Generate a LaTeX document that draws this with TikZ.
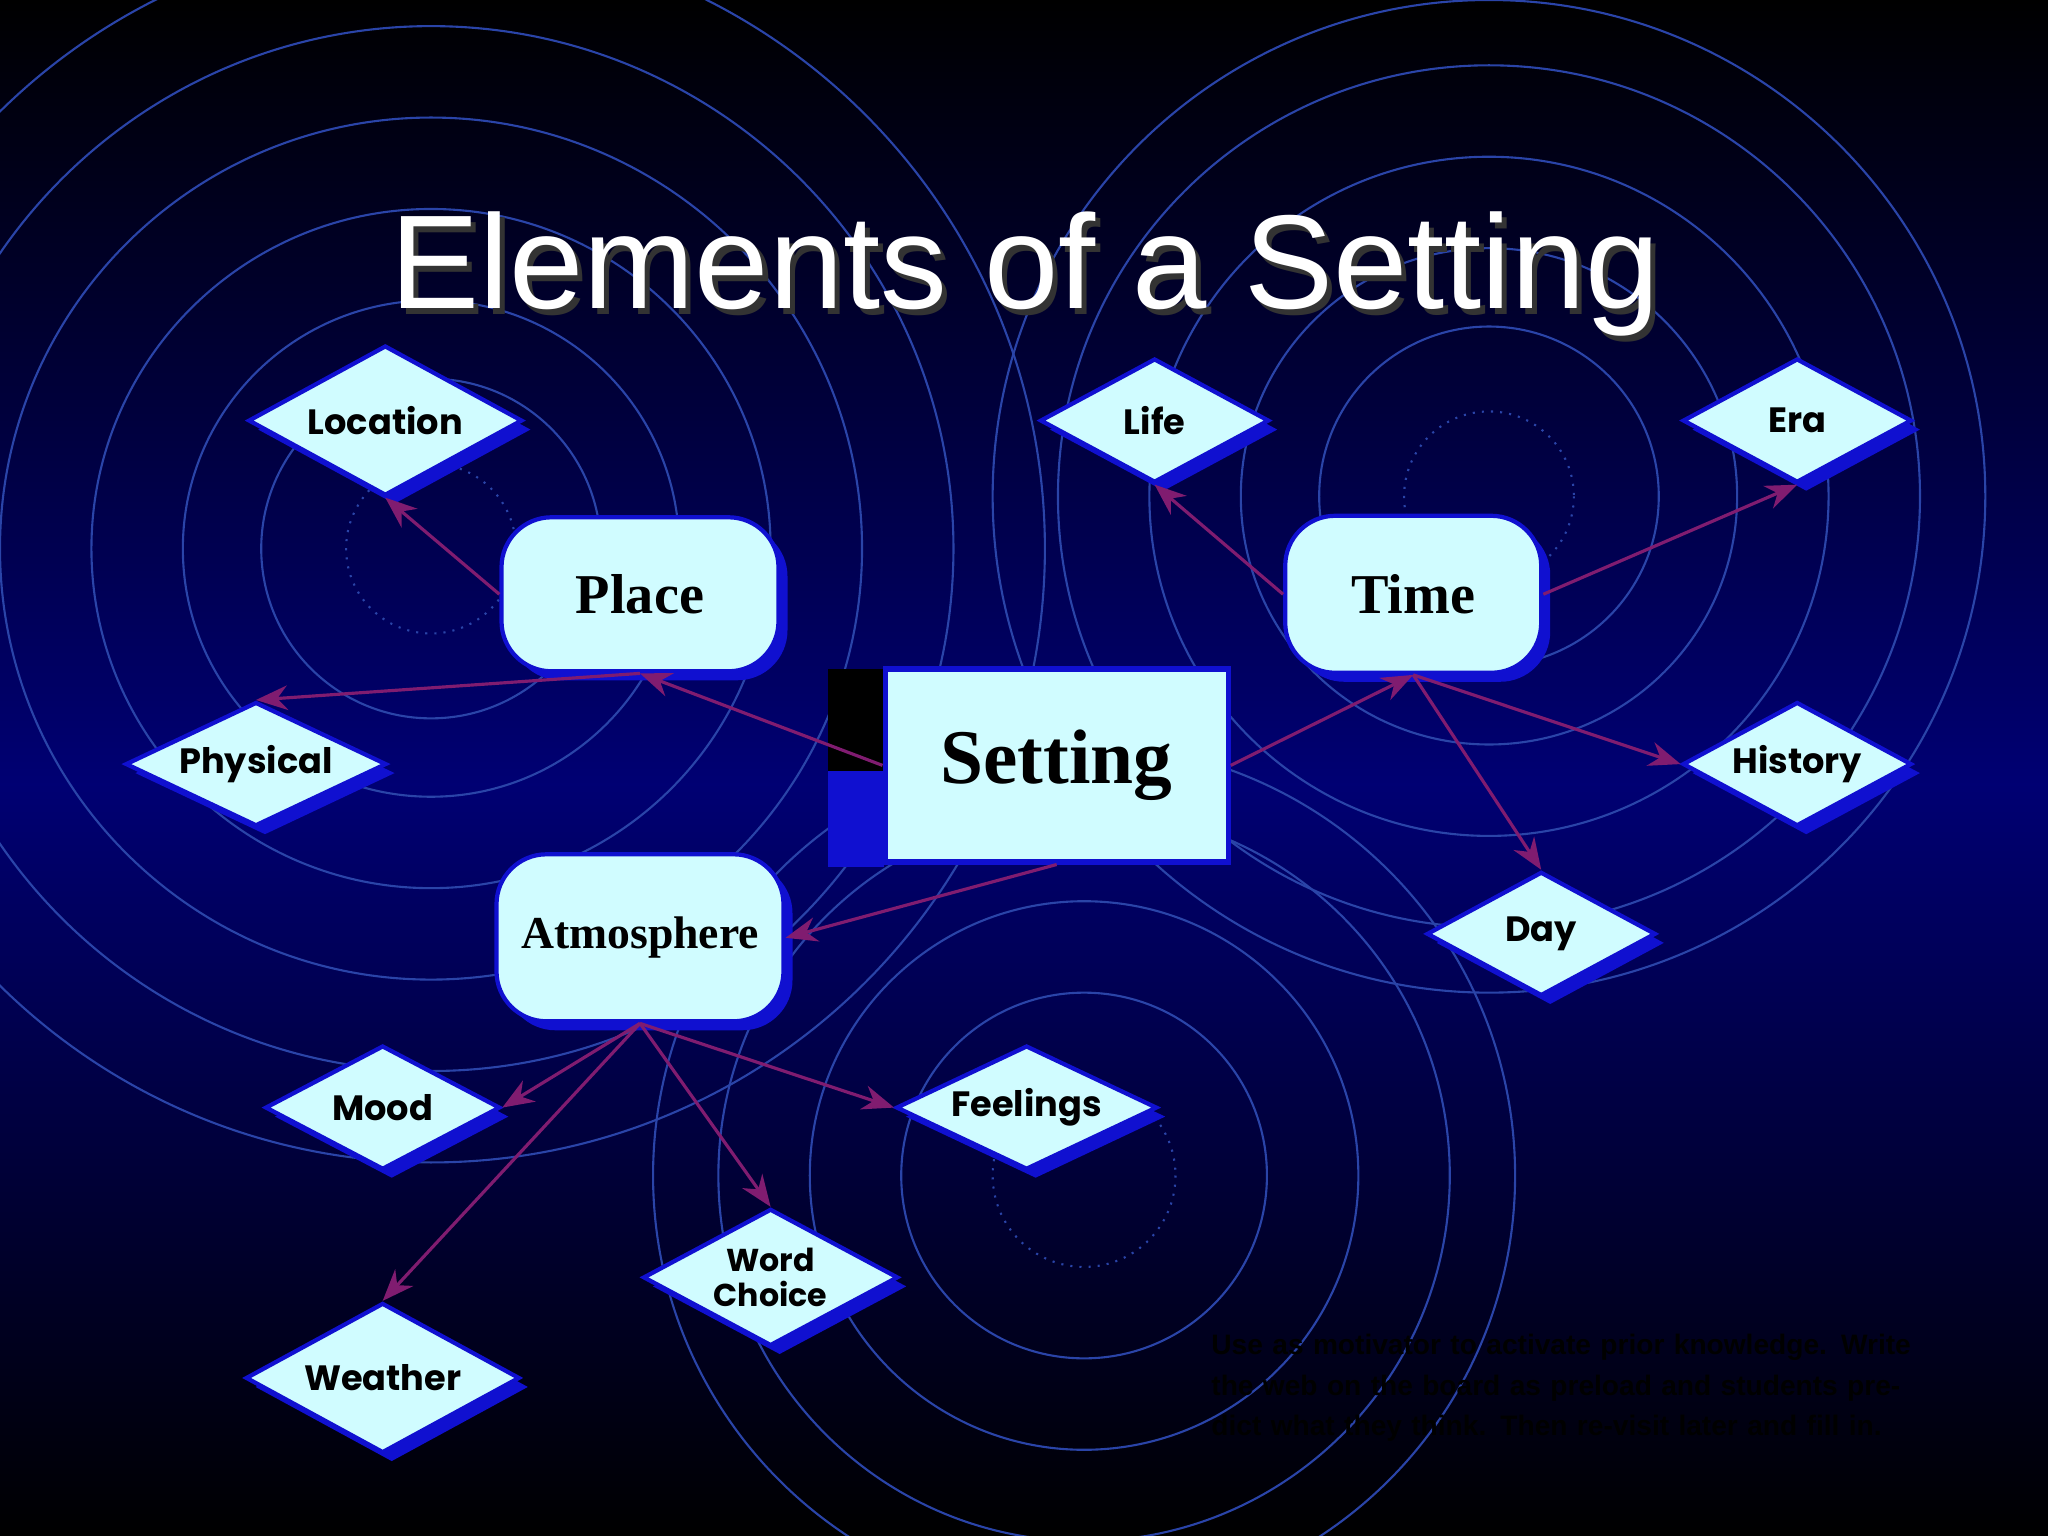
\documentclass[tikz,border=0pt]{standalone}
\usepackage{fontspec}
\newfontfamily\dfont{Poppins Bold}
\newfontfamily\tfont{Liberation Sans}
\newfontfamily\nfont{Liberation Serif}
\usetikzlibrary{shapes.geometric,shadows,arrows.meta}
\definecolor{rc}{HTML}{2A44A8}
\definecolor{fillc}{HTML}{D0FCFF}
\definecolor{brd}{HTML}{1010D0}
\definecolor{arr}{HTML}{801C70}
\tikzset{
 ring/.style={draw=rc,line width=0.6pt},
 sh/.style={drop shadow={fill=brd,shadow xshift=0.09cm,shadow yshift=-0.09cm,opacity=1}},
 dia/.style={shape=diamond,aspect=1.85,sh,draw=brd,line width=1.2pt,fill=fillc,inner sep=0pt,font=\dfont\fontsize{10}{11}\selectfont,align=center},
 rbox/.style={rectangle,rounded corners=0.5cm,sh,draw=brd,line width=1.2pt,fill=fillc,font=\nfont\bfseries\fontsize{16}{18}\selectfont},
 con/.style={draw=arr,line width=0.9pt,-{Stealth[length=9pt,width=7pt]}}
}
\begin{document}
\begin{tikzpicture}[x=0.013061cm,y=-0.013061cm]
\useasboundingbox (0,0) rectangle (1568,1176);
\shade[top color=black,bottom color=blue!45!black] (0,0) rectangle (1568,600);
\shade[top color=blue!45!black,bottom color=black] (0,600) rectangle (1568,1176);
\begin{scope}
\clip (0,0) rectangle (1568,1176);
\foreach \r in {130,190,260,330,400,470} \draw[ring] (330,420) circle (\r);
\draw[ring,dotted] (330,420) circle (65);
\foreach \r in {130,190,260,330,380} \draw[ring] (1140,380) circle (\r);
\draw[ring,dotted] (1140,380) circle (65);
\foreach \r in {140,210,280,330} \draw[ring] (830,900) circle (\r);
\draw[ring,dotted] (830,900) circle (70);
\end{scope}
\node[text=black!80,font=\tfont\fontsize{38}{40}\selectfont] (titlesh) at (789,214) {Elements of a Setting};
\node[text=white,font=\tfont\fontsize{38}{40}\selectfont] (title) at (785,210) {Elements of a Setting};
% Setting
\fill[black] (634,512) rectangle (677,590);
\fill[brd] (634,590) rectangle (677,664);
\node[draw=brd,line width=1.5pt,fill=fillc,minimum width=3.43cm,minimum height=1.93cm,font=\nfont\bfseries\fontsize{22}{24}\selectfont] (set) at (809,586) {Setting};
\node[rbox,minimum width=2.77cm,minimum height=1.54cm] (place) at (490,455) {Place};
\node[rbox,minimum width=2.56cm,minimum height=1.57cm] (time) at (1082,455) {Time};
\node[rbox,minimum width=2.87cm,minimum height=1.67cm,font=\nfont\bfseries\fontsize{13}{15}\selectfont] (atm) at (490,718) {Atmosphere};
\node[dia,minimum width=2.74cm,minimum height=1.5cm] (loc) at (295,322) {Location};
\node[dia,minimum width=2.29cm,minimum height=1.24cm] (life) at (884,322) {Life};
\node[dia,minimum width=2.29cm,minimum height=1.24cm] (era) at (1376,322) {Era};
\node[dia,minimum width=2.61cm,minimum height=1.24cm] (phy) at (196,585) {Physical};
\node[dia,minimum width=2.29cm,minimum height=1.24cm] (his) at (1376,585) {History};
\node[dia,minimum width=2.29cm,minimum height=1.24cm] (day) at (1180,715) {Day};
\node[dia,minimum width=2.35cm,minimum height=1.24cm] (mood) at (293,848) {Mood};
\node[dia,minimum width=2.61cm,minimum height=1.24cm] (feel) at (786,848) {Feelings};
\node[dia,minimum width=2.55cm,minimum height=1.37cm,font=\dfont\fontsize{9}{10}\selectfont] (word) at (590,978) {Word\\Choice};
\node[dia,minimum width=2.74cm,minimum height=1.5cm] (wea) at (293,1055) {Weather};
\draw[con] (place.west) -- (loc.south);
\draw[con] (place.south) -- (phy.north);
\draw[con] (set.west) -- (place.south);
\draw[con] (set.east) -- (time.south);
\draw[con] (set.south) -- (atm.east);
\draw[con] (time.west) -- (life.south);
\draw[con] (time.east) -- (era.south);
\draw[con] (time.south) -- (his.west);
\draw[con] (time.south) -- (day.north);
\draw[con] (atm.south) -- (mood.east);
\draw[con] (atm.south) -- (feel.west);
\draw[con] (atm.south) -- (word.north);
\draw[con] (atm.south) -- (wea.north);
\node[anchor=north west,text=black,text width=7.0cm,align=left,font=\tfont\bfseries\fontsize{8}{11.5}\selectfont] (note) at (918,1012) {Use as motivator to activate prior knowledge. Write the web on the board as preload and students predict what they think. Then re-visit later and fill in.};
\end{tikzpicture}
\end{document}
